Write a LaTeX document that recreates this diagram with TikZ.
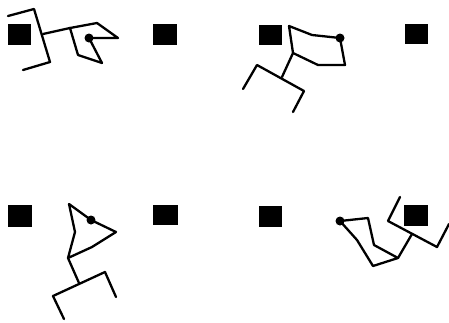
\documentclass[tikz,border=0pt]{standalone}
\begin{document}
\begin{tikzpicture}[x=1pt,y=-1pt,
  stick/.style={line width=2.3pt,line join=round,line cap=round},
  blk/.style={fill=black},
  dotm/.style={fill=black}]
\useasboundingbox (0,0) rectangle (449,322);
% squares
\fill[blk] (8,24) rectangle (31,45);
\fill[blk] (153,24) rectangle (177,45);
\fill[blk] (259,25) rectangle (282,45);
\fill[blk] (405,24) rectangle (428,44);
\fill[blk] (8,205) rectangle (32,227);
\fill[blk] (153,205) rectangle (178,225);
\fill[blk] (259,206) rectangle (282,227);
\fill[blk] (404,205) rectangle (428,226);
% figure 1
\draw[stick] (8,16) -- (34,9) -- (50,62) -- (23,70);
\draw[stick] (43,34) -- (70,28);
\draw[stick] (70,28) -- (97,23) -- (118,38) -- (89,38) -- (102,63) -- (78,55) -- cycle;
\fill[dotm] (89,38) circle (4.5);
% figure 2
\draw[stick] (289,26) -- (312,35) -- (340,38) -- (345,65) -- (318,65) -- (293,53) -- cycle;
\draw[stick] (293,53) -- (282,77);
\draw[stick] (243,89) -- (257,65) -- (304,91) -- (293,112);
\fill[dotm] (340,38) circle (4.5);
% figure 3
\draw[stick] (69,204) -- (91,220) -- (116,232) -- (92,247) -- (68,258) -- (75,232) -- cycle;
\draw[stick] (68,258) -- (79,283);
\draw[stick] (64,319) -- (53,296) -- (105,272) -- (116,297);
\fill[dotm] (91,220) circle (4.5);
% figure 4
\draw[stick] (340,221) -- (368,218) -- (374,245) -- (398,258) -- (373,266) -- (357,240) -- cycle;
\draw[stick] (398,258) -- (412,234);
\draw[stick] (400,197) -- (388,221) -- (437,247) -- (449,224);
\fill[dotm] (340,221) circle (4.5);
\end{tikzpicture}
\end{document}
